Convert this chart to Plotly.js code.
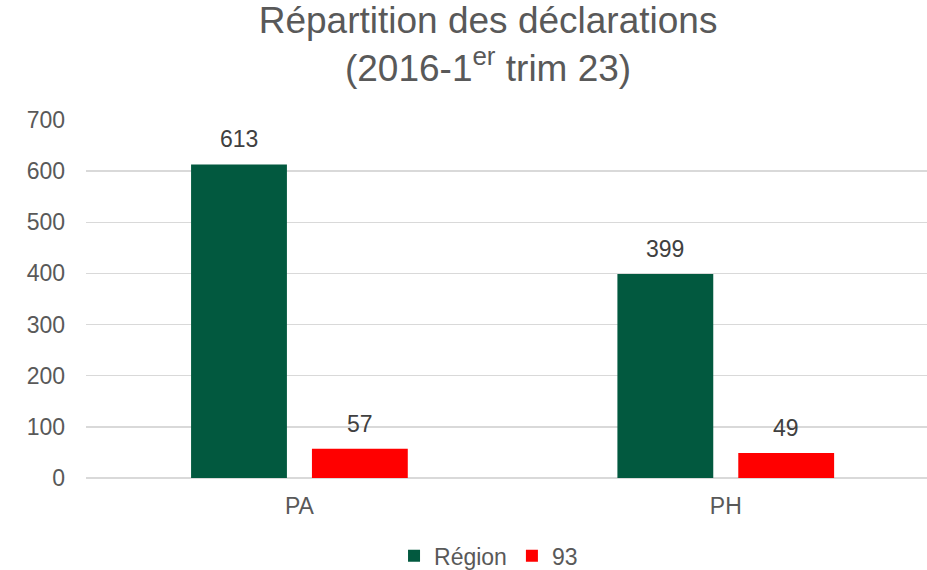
<!DOCTYPE html>
<html>
<head>
<meta charset="utf-8">
<script src="https://cdn.plot.ly/plotly-3.0.1.min.js"></script>
<style>html,body{margin:0;padding:0;overflow:hidden;background:#fff}</style>
</head>
<body>
<div id="chart" style="width:927px;height:570px"></div>
<script>
const categories = ["PA", "PH"];
const seriesNames = ["Région", "93"];
const regionValues = [613, 399];
const dept93Values = [57, 49];
const yTicks = [0, 100, 200, 300, 400, 500, 600, 700];

const colors = ["#02593F", "#FF0000"];
const font = "Liberation Sans, Arial, sans-serif";
const allSeries = [regionValues, dept93Values];

const traces = allSeries.map((vals, i) => ({
  type: "bar",
  name: seriesNames[i],
  x: categories,
  y: vals,
  marker: {color: colors[i]},
  hoverinfo: "x+y+name"
}));

const offsets = [-60.5, 60.5];
const annotations = [];
allSeries.forEach((vals, i) => {
  vals.forEach((v, j) => {
    annotations.push({
      x: categories[j], y: v, xref: "x", yref: "y",
      text: String(v), showarrow: false,
      xshift: offsets[i], yshift: 10, yanchor: "bottom",
      font: {family: font, size: 23, color: "#404040"}
    });
  });
});

const layout = {
  width: 927, height: 570,
  margin: {l: 86, r: 0, t: 120, b: 92},
  paper_bgcolor: "#fff", plot_bgcolor: "#fff",
  title: {
    text: "Répartition des déclarations<br>(2016-1<sup>er</sup> trim 23)",
    font: {family: font, size: 37, color: "#595959"},
    xref: "container", x: 0.5265, xanchor: "center",
    yref: "container", y: 0.943, yanchor: "top"
  },
  barmode: "group",
  bargap: 0.433,
  bargroupgap: 0.207,
  xaxis: {
    type: "category",
    range: [-0.5006, 1.472],
    showgrid: false, zeroline: false, showline: false,
    ticks: "", ticklabelstandoff: 12,
    tickfont: {family: font, size: 23, color: "#595959"},
    fixedrange: true
  },
  yaxis: {
    range: [0, 700],
    tickvals: yTicks,
    ticktext: yTicks.map(String),
    showgrid: true, gridcolor: "#D9D9D9", gridwidth: 1.3,
    zeroline: true, zerolinecolor: "#D9D9D9", zerolinewidth: 1.3,
    showline: false, ticks: "", ticklabelstandoff: 20,
    tickfont: {family: font, size: 23, color: "#595959"},
    fixedrange: true
  },
  showlegend: true,
  legend: {
    orientation: "h",
    xref: "container", x: 0.527, xanchor: "center",
    yref: "container", y: 0.025, yanchor: "middle",
    font: {family: font, size: 23, color: "#595959"},
    itemwidth: 30,
    bgcolor: "rgba(0,0,0,0)"
  },
  annotations: annotations
};

Plotly.newPlot("chart", traces, layout, {displayModeBar: false, staticPlot: true});
</script>
</body>
</html>
